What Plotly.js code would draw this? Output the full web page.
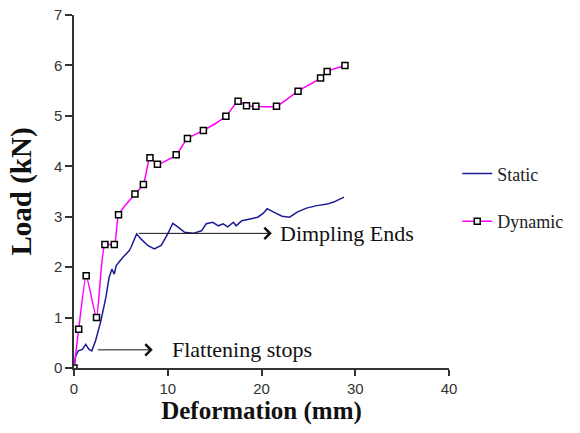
<!DOCTYPE html>
<html>
<head>
<meta charset="utf-8">
<script src="https://cdn.plot.ly/plotly-3.0.1.min.js"></script>
<style>
html,body{margin:0;padding:0;background:#fff;}
#chart .legendtext, #chart .annotation-text, #chart .xtitle, #chart .ytitle { font-family: "Liberation Serif", "Times New Roman", serif !important; }
#chart .xtick text, #chart .ytick text { font-family: "Liberation Sans", Arial, sans-serif !important; }
</style>
</head>
<body>
<div id="chart"></div>
<script>
const staticX = [0,0.18,0.46,0.9,1.25,1.6,1.9,2.3,2.86,3.4,3.75,4.04,4.3,4.5,5.2,5.9,6.07,6.68,7.14,7.86,8.57,9.3,10.0,10.54,11.07,11.8,12.7,13.6,14.1,14.8,15.4,15.9,16.4,17.0,17.3,17.9,18.9,19.6,20.2,20.6,21.3,22.2,23.0,23.8,24.8,25.9,27.0,27.7,28.8];
const staticY = [0,0.24,0.34,0.37,0.47,0.37,0.34,0.54,0.93,1.4,1.8,1.96,1.86,2.03,2.19,2.33,2.39,2.66,2.56,2.43,2.36,2.43,2.66,2.87,2.8,2.69,2.67,2.72,2.86,2.89,2.82,2.86,2.8,2.89,2.82,2.92,2.96,2.99,3.07,3.16,3.09,3.01,2.99,3.09,3.17,3.22,3.25,3.29,3.39];
const dynamicX = [0,0.5,1.3,2.4,3.3,4.3,4.75,6.5,7.4,8.1,8.9,10.9,12.1,13.8,16.2,17.5,18.4,19.4,21.6,23.9,26.3,27.0,28.9];
const dynamicY = [0,0.77,1.83,1.0,2.45,2.45,3.04,3.45,3.64,4.17,4.04,4.23,4.55,4.71,4.99,5.29,5.2,5.19,5.19,5.49,5.75,5.88,6.0];
const seriesNames = ["Static", "Dynamic"];
const xTicks = [0,10,20,30,40];
const yTicks = [0,1,2,3,4,5,6,7];

const SERIF = "Times New Roman";
const SANS = "Arial";

const traces = [
  {x: staticX, y: staticY, name: seriesNames[0], mode: "lines",
   line: {color: "#1c1c94", width: 1.5}, legend: "legend"},
  {x: dynamicX, y: dynamicY, name: seriesNames[1], mode: "lines+markers",
   line: {color: "#ff00ff", width: 1.5, shape: "spline", smoothing: 0.5},
   marker: {symbol: "square", size: 6, color: "#ffffff", line: {color: "#000000", width: 1.5}},
   legend: "legend2"}
];

const layout = {
  width: 580, height: 433,
  font: {family: SERIF, color: "#222"},
  margin: {l: 74, r: 131, t: 15, b: 65},
  paper_bgcolor: "#ffffff", plot_bgcolor: "#ffffff",
  showlegend: true,
  legend: {x: 1.022, xanchor: "left", y: 0.55, yanchor: "middle", bgcolor: "rgba(0,0,0,0)",
           font: {family: SERIF, size: 18, color: "#222"}},
  legend2: {x: 1.022, xanchor: "left", y: 0.415, yanchor: "middle", bgcolor: "rgba(0,0,0,0)",
           font: {family: SERIF, size: 18, color: "#222"}},
  xaxis: {range: [0, 40], tickvals: xTicks, showgrid: false, zeroline: false,
          showline: true, linecolor: "#333", linewidth: 1.5,
          ticks: "outside", ticklen: 6, tickwidth: 1.5, tickcolor: "#333",
          tickfont: {family: SANS, size: 15, color: "#333"},
          title: {text: "<b>Deformation (mm)</b>", font: {family: SERIF, size: 25, color: "#111"}, standoff: 6}},
  yaxis: {range: [0, 7], tickvals: yTicks, showgrid: false, zeroline: false,
          showline: true, linecolor: "#333", linewidth: 1.5,
          ticks: "outside", ticklen: 7, tickwidth: 1.5, tickcolor: "#333",
          tickfont: {family: SANS, size: 15, color: "#333"},
          title: {text: "<b>Load (kN)</b>", font: {family: SERIF, size: 29, color: "#111"}, standoff: 14}},
  annotations: [
    {x: 21.1, y: 2.67, ax: 6.75, ay: 2.67, xref: "x", yref: "y", axref: "x", ayref: "y",
     text: "", showarrow: true, arrowhead: 4, arrowsize: 2.2, arrowwidth: 1, arrowcolor: "#111"},
    {x: 21.8, y: 2.67, xref: "x", yref: "y", text: "Dimpling Ends", showarrow: false,
     xanchor: "left", yanchor: "middle", font: {family: SERIF, size: 22, color: "#111"}},
    {x: 8.4, y: 0.36, ax: 2.4, ay: 0.36, xref: "x", yref: "y", axref: "x", ayref: "y",
     text: "", showarrow: true, arrowhead: 4, arrowsize: 2.2, arrowwidth: 1, arrowcolor: "#111"},
    {x: 10.2, y: 0.36, xref: "x", yref: "y", text: "Flattening stops", showarrow: false,
     xanchor: "left", yanchor: "middle", font: {family: SERIF, size: 22, color: "#111"}}
  ]
};

Plotly.newPlot("chart", traces, layout, {displayModeBar: false});
</script>
</body>
</html>
